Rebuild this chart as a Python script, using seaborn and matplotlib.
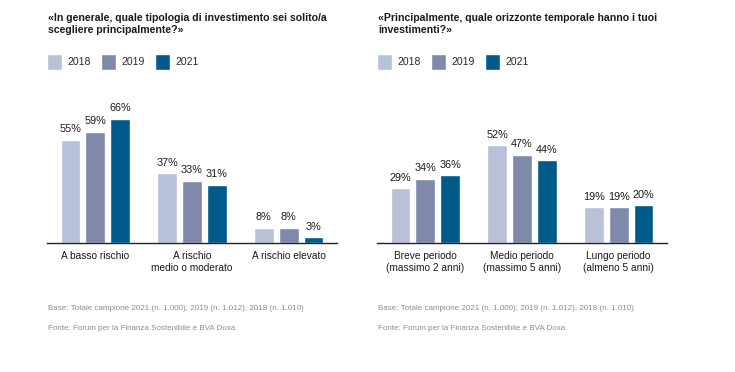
import pandas as pd
import seaborn as sns
import matplotlib.pyplot as plt
from matplotlib.font_manager import findfont, FontProperties

# data
years = ['2018', '2019', '2021']
palette = ['#b7c1d8', '#7f8aab', '#005b8c']

risk_labels = ['A basso rischio', 'A rischio\nmedio o moderato', 'A rischio elevato']
risk_2018 = [55, 37, 8]
risk_2019 = [59, 33, 8]
risk_2021 = [66, 31, 3]

horizon_labels = ['Breve periodo\n(massimo 2 anni)', 'Medio periodo\n(massimo 5 anni)',
                  'Lungo periodo\n(almeno 5 anni)']
horizon_2018 = [29, 52, 19]
horizon_2019 = [34, 47, 19]
horizon_2021 = [36, 44, 20]

title_left = '«In generale, quale tipologia di investimento sei solito/a\nscegliere principalmente?»'
title_right = '«Principalmente, quale orizzonte temporale hanno i tuoi\ninvestimenti?»'
note_base = 'Base: Totale campione 2021 (n. 1.000); 2019 (n. 1.012); 2018 (n. 1.010)'
note_fonte = 'Fonte: Forum per la Finanza Sostenibile e BVA Doxa'

sns.set_theme(style='white')
font = 'Liberation Sans Narrow'
try:
    findfont(FontProperties(family=font), fallback_to_default=False)
except Exception:
    font = 'Liberation Sans'
plt.rcParams['font.family'] = [font, 'DejaVu Sans']

W, H = 735, 372
fig = plt.figure(figsize=(W / 100, H / 100), dpi=100)


def long_df(labels, a, b, c):
    rows = []
    for yr, vals in zip(years, [a, b, c]):
        for lab, v in zip(labels, vals):
            rows.append({'cat': lab, 'year': yr, 'val': v})
    return pd.DataFrame(rows)


def panel(x0, labels, a, b, c, title):
    # axes placed in pixel units: baseline at y=243
    ax = fig.add_axes([x0 / W, (H - 243) / H, 290 / W, 143 / H])
    df = long_df(labels, a, b, c)
    sns.barplot(data=df, x='cat', y='val', hue='year', palette=palette,
                width=0.77, gap=0.2, ax=ax, legend=True, saturation=1)
    for cont in ax.containers:
        ax.bar_label(cont, labels=[f'{int(v)}%' for v in cont.datavalues],
                     padding=4, fontsize=7.8, color='#1a1a1a')
    ax.set_xlim(-0.5, 2.5)
    ax.set_ylim(0, 76)
    ax.set_xlabel('')
    ax.set_ylabel('')
    ax.set_yticks([])
    ax.tick_params(axis='x', length=0, labelsize=7.3, colors='#1a1a1a', pad=6)
    sns.despine(ax=ax, left=True)
    ax.spines['bottom'].set_color('#222222')
    ax.spines['bottom'].set_linewidth(1.0)
    handles, lbls = ax.get_legend_handles_labels()
    ax.get_legend().remove()
    fig.legend(handles, lbls, loc='upper left',
               bbox_to_anchor=(x0 / W, (H - 54) / H),
               ncol=3, frameon=False, fontsize=7.5, handlelength=1.45,
               handleheight=1.93, handletextpad=0.5, columnspacing=1.0,
               borderaxespad=0, borderpad=0)
    fig.text((x0 + 1) / W, (H - 13) / H, title, ha='left', va='top',
             fontsize=7.6, fontweight='bold', color='#1a1a1a', linespacing=1.3)
    fig.text((x0 + 1) / W, (H - 309) / H, note_base, ha='left', va='center',
             fontsize=5.8, color='#8c8c8c')
    fig.text((x0 + 1) / W, (H - 328) / H, note_fonte, ha='left', va='center',
             fontsize=5.8, color='#8c8c8c')
    return ax


panel(47, risk_labels, risk_2018, risk_2019, risk_2021, title_left)
panel(377, horizon_labels, horizon_2018, horizon_2019, horizon_2021, title_right)

fig.savefig('out.png', dpi=100, facecolor='white')
